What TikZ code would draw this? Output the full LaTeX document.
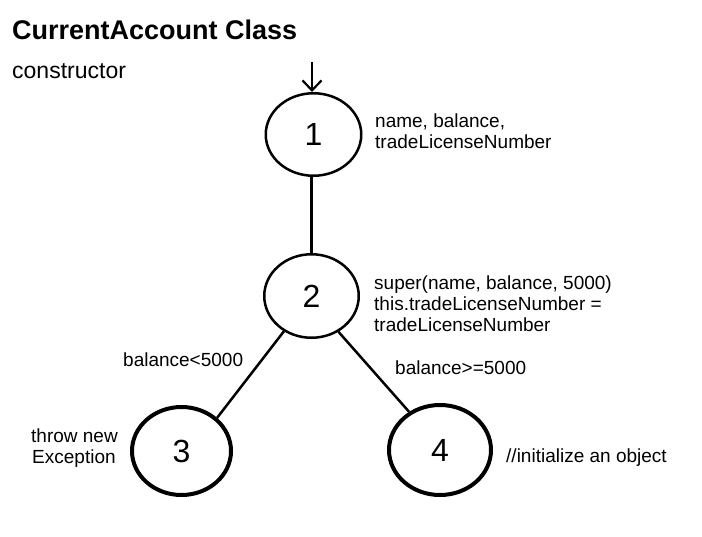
\documentclass[tikz,border=0pt]{standalone}
\usepackage{fontspec}
\setmainfont{Liberation Sans}
\usetikzlibrary{shapes.geometric,arrows.meta}
\tikzset{
  state/.style={draw, ellipse, inner sep=0pt, font=\fontsize{32}{36}\selectfont},
  thin state/.style={state, line width=2.5pt},
  thick state/.style={state, line width=4pt},
  note/.style={anchor=base west, inner sep=0pt, font=\fontsize{19}{22}\selectfont},
  conn/.style={line width=2.5pt},
}
\begin{document}
\begin{tikzpicture}[x=1pt,y=-1pt]
\useasboundingbox (0,0) rectangle (702,536);
\node[anchor=base west, inner sep=0pt, font=\fontsize{27}{30}\selectfont\bfseries] (title) at (12,39) {CurrentAccount Class};
\node[anchor=base west, inner sep=0pt, font=\fontsize{23}{26}\selectfont] (ctor) at (12,78) {constructor};

\node[thin state, minimum width=95.5pt, minimum height=82.5pt] (n1) at (313.5,134.5) {1};
\node[thin state, minimum width=94.5pt, minimum height=83.5pt] (n2) at (311.5,296) {2};
\node[thick state, minimum width=99pt, minimum height=88pt] (n3) at (181.5,451) {3};
\node[thick state, minimum width=102pt, minimum height=90pt] (n4) at (440,450) {4};

\coordinate (start) at (312,62);
\draw[line width=2.2pt, -{Straight Barb[length=10pt,width=19pt,line width=2.2pt]}] (start) -- (start |- n1.north);
\draw[line width=2.2pt] (n2.north) -- (n2.north |- n1.south);
\draw[conn] (n2.232) -- (n3.43);
\draw[conn] (n2.307.6) -- (n4.129);

\node[note] (l1a) at (375,127) {name, balance,};
\node[note] (l1b) at (375,148) {tradeLicenseNumber};
\node[note] (l2a) at (374,289) {super(name, balance, 5000)};
\node[note] (l2b) at (374,310) {this.tradeLicenseNumber =};
\node[note] (l2c) at (374,331) {tradeLicenseNumber};
\node[note] (c3) at (123,366) {balance<5000};
\node[note] (c4) at (395,374) {balance>=5000};
\node[note] (l3a) at (31,442) {throw new};
\node[note] (l3b) at (32,463) {Exception};
\node[note] (l4) at (506,462) {//initialize an object};
\end{tikzpicture}
\end{document}
